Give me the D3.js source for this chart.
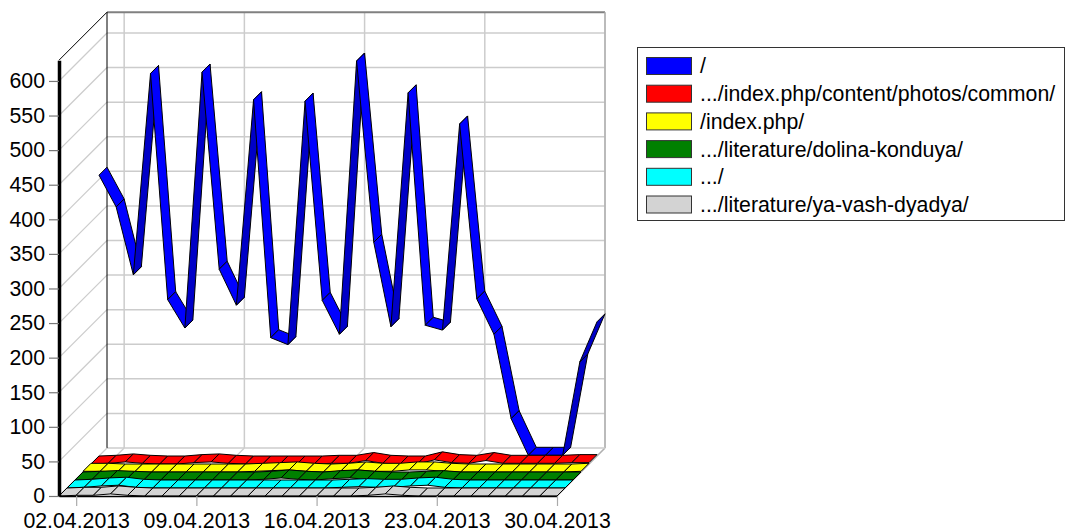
<!DOCTYPE html>
<html>
<head>
<meta charset="utf-8">
<script src="https://cdn.jsdelivr.net/npm/d3@7"></script>
<style>
  body { margin: 0; background: #fff; }
  svg { display: block; font-family: "Liberation Sans", Arial, sans-serif; }
</style>
</head>
<body>
<div id="chart"></div>
<script>
// data, one value per day 01.04.2013 - 30.04.2013
const days = ["01.04.2013","02.04.2013","03.04.2013","04.04.2013","05.04.2013","06.04.2013","07.04.2013","08.04.2013","09.04.2013","10.04.2013",
              "11.04.2013","12.04.2013","13.04.2013","14.04.2013","15.04.2013","16.04.2013","17.04.2013","18.04.2013","19.04.2013","20.04.2013",
              "21.04.2013","22.04.2013","23.04.2013","24.04.2013","25.04.2013","26.04.2013","27.04.2013","28.04.2013","29.04.2013","30.04.2013"];
const dateTicks = ["02.04.2013", "09.04.2013", "16.04.2013", "23.04.2013", "30.04.2013"];
const yTicks = [0, 50, 100, 150, 200, 250, 300, 350, 400, 450, 500, 550, 600];

const seriesNames = ["/", ".../index.php/content/photos/common/", "/index.php/", ".../literature/dolina-konduya/", ".../", ".../literature/ya-vash-dyadya/"];
const seriesColors = ["#0000ff", "#ff0000", "#ffff00", "#008000", "#00ffff", "#d3d3d3"];

const rootPage  = [406,360,262,553,226,185,555,270,218,515,171,161,513,225,176,571,309,187,525,189,182,480,227,176,54,1,1,1,136,194];
const photos    = [0,1,3,1,0,0,2,3,1,0,0,0,0,0,1,1,5,1,0,0,6,2,1,5,1,1,1,1,2,2];
const indexPhp  = [1,1,0,0,0,0,0,0,0,0,1,2,3,1,0,1,3,1,1,3,3,1,0,0,0,0,0,0,0,1];
const dolina    = [0,1,2,1,0,0,0,0,0,0,0,1,3,1,0,2,3,1,0,0,1,2,0,0,0,0,0,0,0,0];
const dots      = [0,1,3,4,1,0,0,0,0,0,0,0,0,0,0,0,1,2,1,1,3,4,1,0,0,0,0,0,0,0];
const yaVash    = [0,1,1,3,1,0,0,0,0,0,0,0,0,0,0,0,0,0,1,3,1,0,0,0,0,0,0,0,0,0];

const seriesValues = [rootPage, photos, indexPhp, dolina, dots, yaVash];

const width = 1068, height = 531;
const depth = 48;          // total depth of the 3d box
const slot = depth / seriesValues.length;

const parseDay = d3.timeParse("%d.%m.%Y");

const x = d3.scaleTime()
    .domain([parseDay(days[0]), parseDay(days[days.length - 1])])
    .range([59, 557]);

const y = d3.scaleLinear()
    .domain([0, 630])
    .range([496, 60.2]);

const svg = d3.select("#chart")
    .append("svg")
    .attr("width", width)
    .attr("height", height);

const grid = "#cccccc";
const x0 = x.range()[0], x1 = x.range()[1];
const yTop = y.range()[1], yBase = y(0);

// back wall + side wall gridlines
svg.append("g").selectAll("line.hgrid")
    .data(yTicks.filter(d => d > 0))
    .enter().append("line")
    .attr("x1", x0 + depth).attr("x2", x1 + depth)
    .attr("y1", d => y(d) - depth).attr("y2", d => y(d) - depth)
    .attr("stroke", grid).attr("stroke-width", 1.5);

svg.append("g").selectAll("line.sgrid")
    .data(yTicks.filter(d => d > 0))
    .enter().append("line")
    .attr("x1", x0).attr("x2", x0 + depth)
    .attr("y1", d => y(d)).attr("y2", d => y(d) - depth)
    .attr("stroke", grid).attr("stroke-width", 1.2);

// vertical lines on back wall and diagonals on the floor
const tickDates = dateTicks.map(parseDay);
svg.append("g").selectAll("line")
    .data(tickDates)
    .enter().append("line")
    .attr("x1", d => x(d) + depth).attr("x2", d => x(d) + depth)
    .attr("y1", yTop - depth).attr("y2", yBase - depth)
    .attr("stroke", grid).attr("stroke-width", 1.5);

svg.append("g").selectAll("line")
    .data(tickDates)
    .enter().append("line")
    .attr("x1", d => x(d)).attr("x2", d => x(d) + depth)
    .attr("y1", yBase).attr("y2", yBase - depth)
    .attr("stroke", grid).attr("stroke-width", 1.2);

// box edges
svg.append("line") // back top
    .attr("x1", x0 + depth).attr("x2", x1 + depth)
    .attr("y1", yTop - depth).attr("y2", yTop - depth)
    .attr("stroke", "#808080").attr("stroke-width", 2);
svg.append("line") // back right
    .attr("x1", x1 + depth).attr("x2", x1 + depth)
    .attr("y1", yTop - depth).attr("y2", yBase - depth)
    .attr("stroke", "#b0b0b0").attr("stroke-width", 1.5);
svg.append("line") // floor right
    .attr("x1", x1).attr("x2", x1 + depth)
    .attr("y1", yBase).attr("y2", yBase - depth)
    .attr("stroke", "#b0b0b0").attr("stroke-width", 1.2);
svg.append("line") // floor back
    .attr("x1", x0 + depth).attr("x2", x1 + depth)
    .attr("y1", yBase - depth).attr("y2", yBase - depth)
    .attr("stroke", grid).attr("stroke-width", 1.5);
svg.append("line") // back left
    .attr("x1", x0 + depth).attr("x2", x0 + depth)
    .attr("y1", yTop - depth).attr("y2", yBase - depth)
    .attr("stroke", "#000").attr("stroke-width", 1);
svg.append("line") // side top
    .attr("x1", x0).attr("x2", x0 + depth)
    .attr("y1", yTop).attr("y2", yTop - depth)
    .attr("stroke", "#000").attr("stroke-width", 1);
svg.append("line") // side bottom
    .attr("x1", x0).attr("x2", x0 + depth)
    .attr("y1", yBase).attr("y2", yBase - depth)
    .attr("stroke", grid).attr("stroke-width", 1.2);

// ribbons, back series first
const ribbons = svg.append("g");
for (let s = 0; s < seriesValues.length; s++) {
    const vals = seriesValues[s];
    const d = depth - slot * (s + 1);
    const base = d3.color(seriesColors[s]);
    const dark = base.darker(0.7);
    const segs = d3.pairs(vals.map((v, i) => [x(parseDay(days[i])), y(v)]));

    ribbons.append("g").selectAll("path")
        .data(segs)
        .enter().append("path")
        .attr("d", ([a, b]) => {
            const p = [
                [a[0] + d, a[1] - d],
                [b[0] + d, b[1] - d],
                [b[0] + d + slot, b[1] - d - slot],
                [a[0] + d + slot, a[1] - d - slot]
            ];
            return "M" + p.join("L") + "Z";
        })
        .attr("fill", ([a, b]) => ((b[0] - a[0]) + (b[1] - a[1]) < 0 ? dark : base))
        .attr("stroke", "#000")
        .attr("stroke-width", 1)
        .attr("stroke-linejoin", "round");
}

// y axis
const yAxis = svg.append("g")
    .attr("transform", `translate(${x0},0)`)
    .call(d3.axisLeft(y).tickValues(yTicks).tickSize(10).tickSizeOuter(0).tickPadding(4));
yAxis.select(".domain").attr("stroke", "#000").attr("stroke-width", 3.5);
yAxis.selectAll(".tick line").attr("stroke", "#777").attr("stroke-width", 1.2);
yAxis.selectAll(".tick text")
    .attr("fill", "#000")
    .style("font-size", "21.3px")
    .style("font-family", "'Liberation Sans', Arial, sans-serif");

// x axis
const xAxis = svg.append("g")
    .attr("transform", `translate(0,${yBase})`)
    .call(d3.axisBottom(x).tickValues(tickDates).tickFormat(d3.timeFormat("%d.%m.%Y"))
        .tickSize(10).tickSizeOuter(0).tickPadding(7));
xAxis.select(".domain").attr("stroke", "#000").attr("stroke-width", 1.5);
xAxis.selectAll(".tick line").attr("stroke", "#aaa").attr("stroke-width", 1.2);
xAxis.selectAll(".tick text")
    .attr("fill", "#000")
    .style("font-size", "21.3px")
    .style("font-family", "'Liberation Sans', Arial, sans-serif");

// legend
const legend = svg.append("g");
legend.append("rect")
    .attr("x", 637.5).attr("y", 47.5)
    .attr("width", 427).attr("height", 173)
    .attr("fill", "#fff").attr("stroke", "#333").attr("stroke-width", 1);

const item = legend.selectAll("g.item")
    .data(seriesNames)
    .enter().append("g")
    .attr("transform", (d, i) => `translate(646.5,${57.5 + i * 27.7})`);

item.append("rect")
    .attr("width", 45).attr("height", 17)
    .attr("fill", (d, i) => seriesColors[i])
    .attr("stroke", "#333").attr("stroke-width", 1);

item.append("text")
    .attr("x", 53.5).attr("y", 8.5)
    .attr("dy", "0.35em")
    .style("font-size", "21.3px")
    .text(d => d);
</script>
</body>
</html>
